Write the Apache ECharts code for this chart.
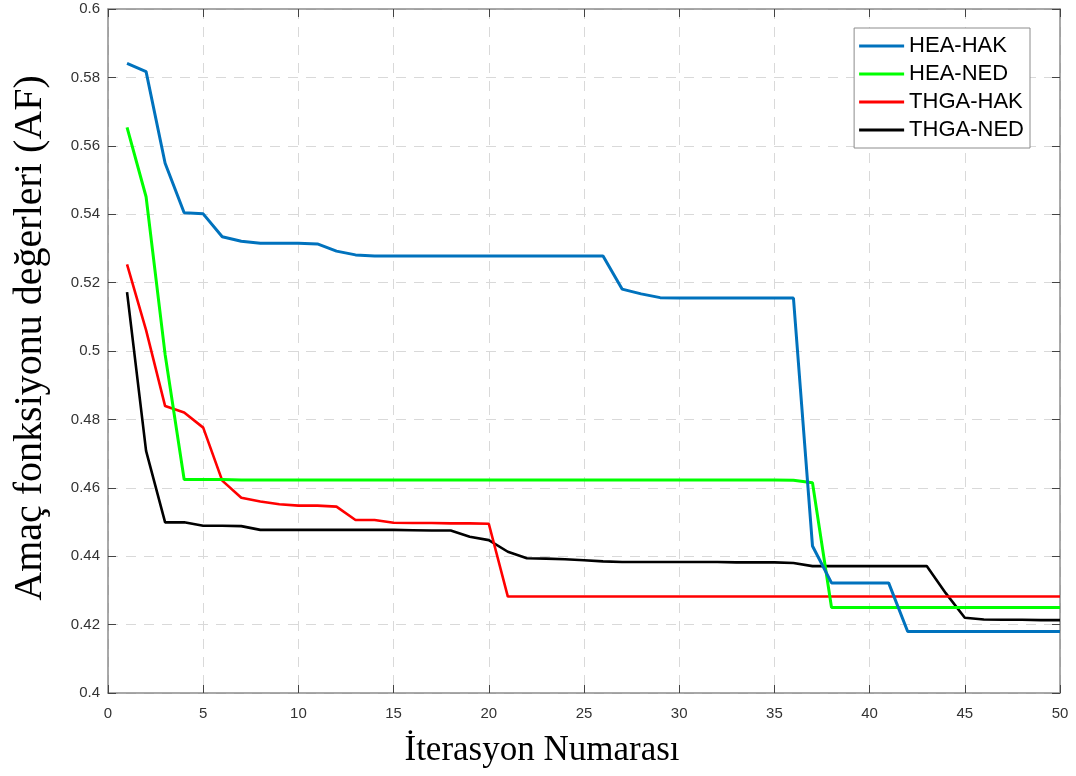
<!DOCTYPE html>
<html>
<head>
<meta charset="utf-8">
<script src="https://cdn.jsdelivr.net/npm/echarts@6/dist/echarts.min.js"></script>
<style>
  html, body { margin: 0; padding: 0; background: #fff; }
  #main { width: 1076px; height: 776px; }
</style>
</head>
<body>
<div id="main"></div>
<script>
// iteration numbers 1..50
var iterations = [];
for (let i = 1; i <= 50; i++) iterations.push(i);

var heaHak = [0.5841, 0.5817, 0.5549, 0.5404, 0.5401, 0.5334, 0.5321, 0.5315, 0.5315, 0.5315,
  0.5313, 0.5292, 0.5281, 0.5278, 0.5278, 0.5278, 0.5278, 0.5278, 0.5278, 0.5278,
  0.5278, 0.5278, 0.5278, 0.5278, 0.5278, 0.5278, 0.5181, 0.5167, 0.5156, 0.5155,
  0.5155, 0.5155, 0.5155, 0.5155, 0.5155, 0.5155, 0.4430, 0.4322, 0.4322, 0.4322,
  0.4322, 0.4180, 0.4180, 0.4180, 0.4180, 0.4180, 0.4180, 0.4180, 0.4180, 0.4180];

var heaNed = [0.5654, 0.5451, 0.4990, 0.4624, 0.4624, 0.4624, 0.4623, 0.4623, 0.4623, 0.4623,
  0.4623, 0.4623, 0.4623, 0.4623, 0.4623, 0.4623, 0.4623, 0.4623, 0.4623, 0.4623,
  0.4623, 0.4623, 0.4623, 0.4623, 0.4623, 0.4623, 0.4623, 0.4623, 0.4623, 0.4623,
  0.4623, 0.4623, 0.4623, 0.4623, 0.4623, 0.4622, 0.4615, 0.4250, 0.4250, 0.4250,
  0.4250, 0.4250, 0.4250, 0.4250, 0.4250, 0.4250, 0.4250, 0.4250, 0.4250, 0.4250];

var thgaHak = [0.5253, 0.5061, 0.4839, 0.4820, 0.4776, 0.4621, 0.4571, 0.4560, 0.4552, 0.4548,
  0.4548, 0.4545, 0.4506, 0.4506, 0.4498, 0.4497, 0.4497, 0.4496, 0.4496, 0.4495,
  0.4282, 0.4282, 0.4282, 0.4282, 0.4282, 0.4282, 0.4282, 0.4282, 0.4282, 0.4282,
  0.4282, 0.4282, 0.4282, 0.4282, 0.4282, 0.4282, 0.4282, 0.4282, 0.4282, 0.4282,
  0.4282, 0.4282, 0.4282, 0.4282, 0.4282, 0.4282, 0.4282, 0.4282, 0.4282, 0.4282];

var thgaNed = [0.5172, 0.4708, 0.4499, 0.4499, 0.4489, 0.4489, 0.4488, 0.4477, 0.4477, 0.4477,
  0.4477, 0.4477, 0.4477, 0.4477, 0.4477, 0.4476, 0.4475, 0.4475, 0.4457, 0.4447,
  0.4413, 0.4394, 0.4393, 0.4391, 0.4388, 0.4385, 0.4383, 0.4383, 0.4383, 0.4383,
  0.4383, 0.4383, 0.4382, 0.4382, 0.4382, 0.4380, 0.4371, 0.4371, 0.4371, 0.4371,
  0.4371, 0.4371, 0.4371, 0.4292, 0.4220, 0.4215, 0.4214, 0.4214, 0.4213, 0.4213];

var seriesNames = ['HEA-HAK', 'HEA-NED', 'THGA-HAK', 'THGA-NED'];
var seriesColors = ['#0072BD', '#00FF00', '#FF0000', '#000000'];
var seriesData = [heaHak, heaNed, thgaHak, thgaNed];

function pairs(arr) {
  return arr.map(function (v, i) { return [iterations[i], v]; });
}

var myChart = echarts.init(document.getElementById('main'));

var axisGray = '#8c8c8c';
var labelFont = { fontFamily: 'Liberation Sans', fontSize: 15, color: '#333' };

var option = {
  backgroundColor: '#fff',
  animation: false,
  grid: { left: 108, right: 16, top: 9, bottom: 83 },
  legend: {
    orient: 'vertical',
    right: 46,
    top: 28,
    padding: [7, 6, 7, 5],
    backgroundColor: '#fff',
    borderColor: '#8c8c8c',
    borderWidth: 1,
    borderRadius: 0,
    icon: 'rect',
    itemWidth: 45,
    itemHeight: 3,
    itemGap: 6,
    textStyle: { fontFamily: 'Liberation Sans', fontSize: 22, color: '#000' },
    data: seriesNames
  },
  xAxis: [
    {
      type: 'value', min: 0, max: 50, interval: 5,
      name: 'İterasyon Numarası',
      nameLocation: 'middle',
      nameGap: 40,
      nameTextStyle: { fontFamily: 'Liberation Serif', fontSize: 35, color: '#000', padding: [0, 84, 0, 0] },
      axisLine: { show: true, onZero: false, lineStyle: { color: axisGray, width: 1.5 } },
      axisTick: { inside: true, length: 8, lineStyle: { color: '#444' } },
      axisLabel: Object.assign({ margin: 13 }, labelFont),
      splitLine: { show: true, lineStyle: { color: '#d9d9d9', type: [10, 8] } }
    },
    {
      type: 'value', min: 0, max: 50, interval: 5, position: 'top',
      axisLine: { show: true, onZero: false, lineStyle: { color: axisGray, width: 1.5 } },
      axisTick: { inside: true, length: 8, lineStyle: { color: '#444' } },
      axisLabel: { show: false },
      splitLine: { show: false }
    }
  ],
  yAxis: [
    {
      type: 'value', min: 0.4, max: 0.6, interval: 0.02,
      name: 'Amaç fonksiyonu değerleri (AF)',
      nameLocation: 'middle',
      nameGap: 58,
      nameTextStyle: { fontFamily: 'Liberation Serif', fontSize: 40, color: '#000', padding: [0, 0, 0, 26] },
      axisLine: { show: true, onZero: false, lineStyle: { color: axisGray, width: 1.5 } },
      axisTick: { show: true, inside: true, length: 8, lineStyle: { color: '#444' } },
      axisLabel: Object.assign({
        margin: 8,
        formatter: function (v) { return String(Math.round(v * 100) / 100); }
      }, labelFont),
      splitLine: { show: true, lineStyle: { color: '#d9d9d9', type: [10, 8] } }
    },
    {
      type: 'value', min: 0.4, max: 0.6, interval: 0.02, position: 'right',
      axisLine: { show: true, onZero: false, lineStyle: { color: axisGray, width: 1.5 } },
      axisTick: { show: true, inside: true, length: 8, lineStyle: { color: '#444' } },
      axisLabel: { show: false },
      splitLine: { show: false }
    }
  ],
  series: []
};

for (let i = 0; i < seriesNames.length; i++) {
  option.series.push({
    name: seriesNames[i],
    type: 'line',
    xAxisIndex: 0,
    yAxisIndex: 0,
    data: pairs(seriesData[i]),
    symbol: 'none',
    color: seriesColors[i],
    lineStyle: { color: seriesColors[i], width: i < 2 ? 3 : 2.6 },
    z: 10 - i
  });
}

myChart.setOption(option);
</script>
</body>
</html>
